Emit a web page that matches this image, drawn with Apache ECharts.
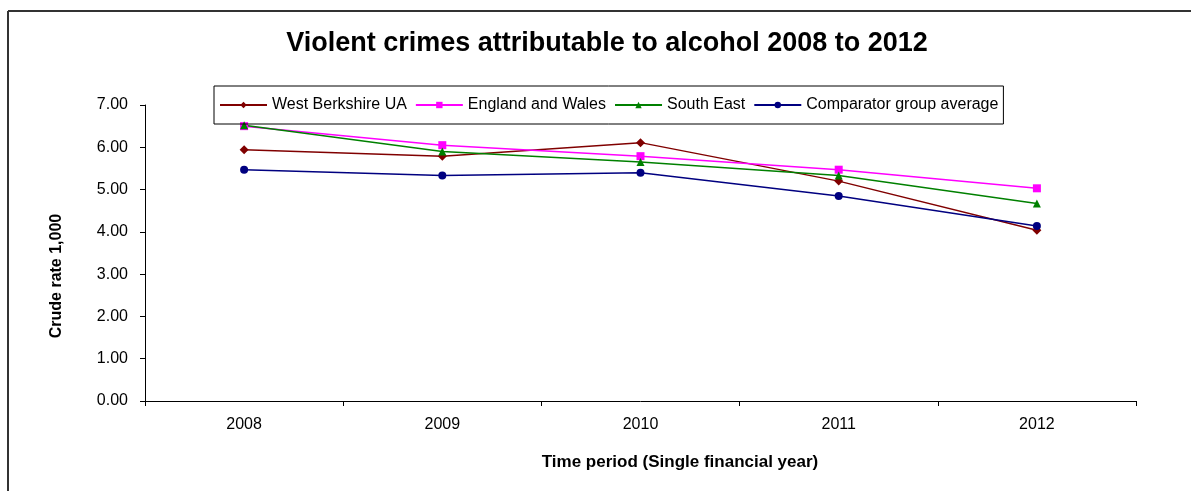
<!DOCTYPE html>
<html>
<head>
<meta charset="utf-8">
<script src="https://cdn.jsdelivr.net/npm/echarts@6/dist/echarts.min.js"></script>
<style>
html,body{margin:0;padding:0;background:#fff;}
#chart{width:1191px;height:491px;}
</style>
</head>
<body>
<div id="chart"></div>
<script>
const categories = ['2008', '2009', '2010', '2011', '2012'];
const westBerkshire = [5.94, 5.79, 6.11, 5.20, 4.04];
const englandWales = [6.50, 6.05, 5.79, 5.47, 5.03];
const southEast = [6.52, 5.90, 5.65, 5.33, 4.67];
const comparator = [5.47, 5.33, 5.40, 4.85, 4.14];
const yTicks = [0, 1, 2, 3, 4, 5, 6, 7];

const FONT = '"Liberation Sans", Arial, sans-serif';
const chart = echarts.init(document.getElementById('chart'));

function mkSeries(name, data, color, symbol, size) {
  return {
    name: name, type: 'line', data: data,
    symbol: symbol, symbolSize: size,
    lineStyle: { color: color, width: 1.5 },
    itemStyle: { color: color },
    emphasis: { disabled: true },
    animation: false
  };
}

chart.setOption({
  animation: false,
  backgroundColor: '#fff',
  title: {
    text: 'Violent crimes attributable to alcohol 2008 to 2012',
    left: 602, top: 25, textAlign: 'center',
    textStyle: { fontFamily: FONT, fontSize: 27, fontWeight: 'bold', color: '#000' }
  },
  legend: {
    left: 214, top: 86,
    orient: 'horizontal',
    padding: [11, 5, 11, 5],
    itemWidth: 47, itemHeight: 8, itemGap: 8,
    borderColor: '#000', borderWidth: 1,
    textStyle: { fontFamily: FONT, fontSize: 16, color: '#000' },
    data: ['West Berkshire UA', 'England and Wales', 'South East', 'Comparator group average']
  },
  grid: { left: 145, right: 55, top: 105, bottom: 90, containLabel: false },
  xAxis: {
    type: 'category', data: categories, boundaryGap: true,
    axisLine: { lineStyle: { color: '#000', width: 1 } },
    axisTick: { show: true, inside: false, length: 5, lineStyle: { color: '#000' } },
    axisLabel: { fontFamily: FONT, fontSize: 16, color: '#000', margin: 16 },
    splitLine: { show: false }
  },
  yAxis: {
    type: 'value', min: 0, max: 7, interval: 1,
    axisLine: { show: true, lineStyle: { color: '#000', width: 1 } },
    axisTick: { show: true, inside: false, length: 5, lineStyle: { color: '#000' } },
    axisLabel: { fontFamily: FONT, fontSize: 16, color: '#000', margin: 17,
      formatter: v => yTicks.includes(v) ? v.toFixed(2) : '' },
    splitLine: { show: false }
  },
  series: [
    mkSeries('West Berkshire UA', westBerkshire, '#800000', 'diamond', 9),
    mkSeries('England and Wales', englandWales, '#FF00FF', 'rect', 8),
    mkSeries('South East', southEast, '#008000', 'triangle', 8),
    mkSeries('Comparator group average', comparator, '#000080', 'circle', 8)
  ],
  graphic: [
    { type: 'line', shape: { x1: 8, y1: 11, x2: 1191, y2: 11 }, style: { stroke: '#333', lineWidth: 2 } },
    { type: 'line', shape: { x1: 8, y1: 11, x2: 8, y2: 491 }, style: { stroke: '#333', lineWidth: 2 } },
    { type: 'text', x: 57, y: 276, rotation: Math.PI / 2,
      style: { text: 'Crude rate 1,000', font: 'bold 16px ' + FONT, fill: '#000', textAlign: 'center', textVerticalAlign: 'middle' } },
    { type: 'text', x: 680, y: 462,
      style: { text: 'Time period (Single financial year)', font: 'bold 17px ' + FONT, fill: '#000', textAlign: 'center', textVerticalAlign: 'middle' } }
  ]
});
</script>
</body>
</html>
